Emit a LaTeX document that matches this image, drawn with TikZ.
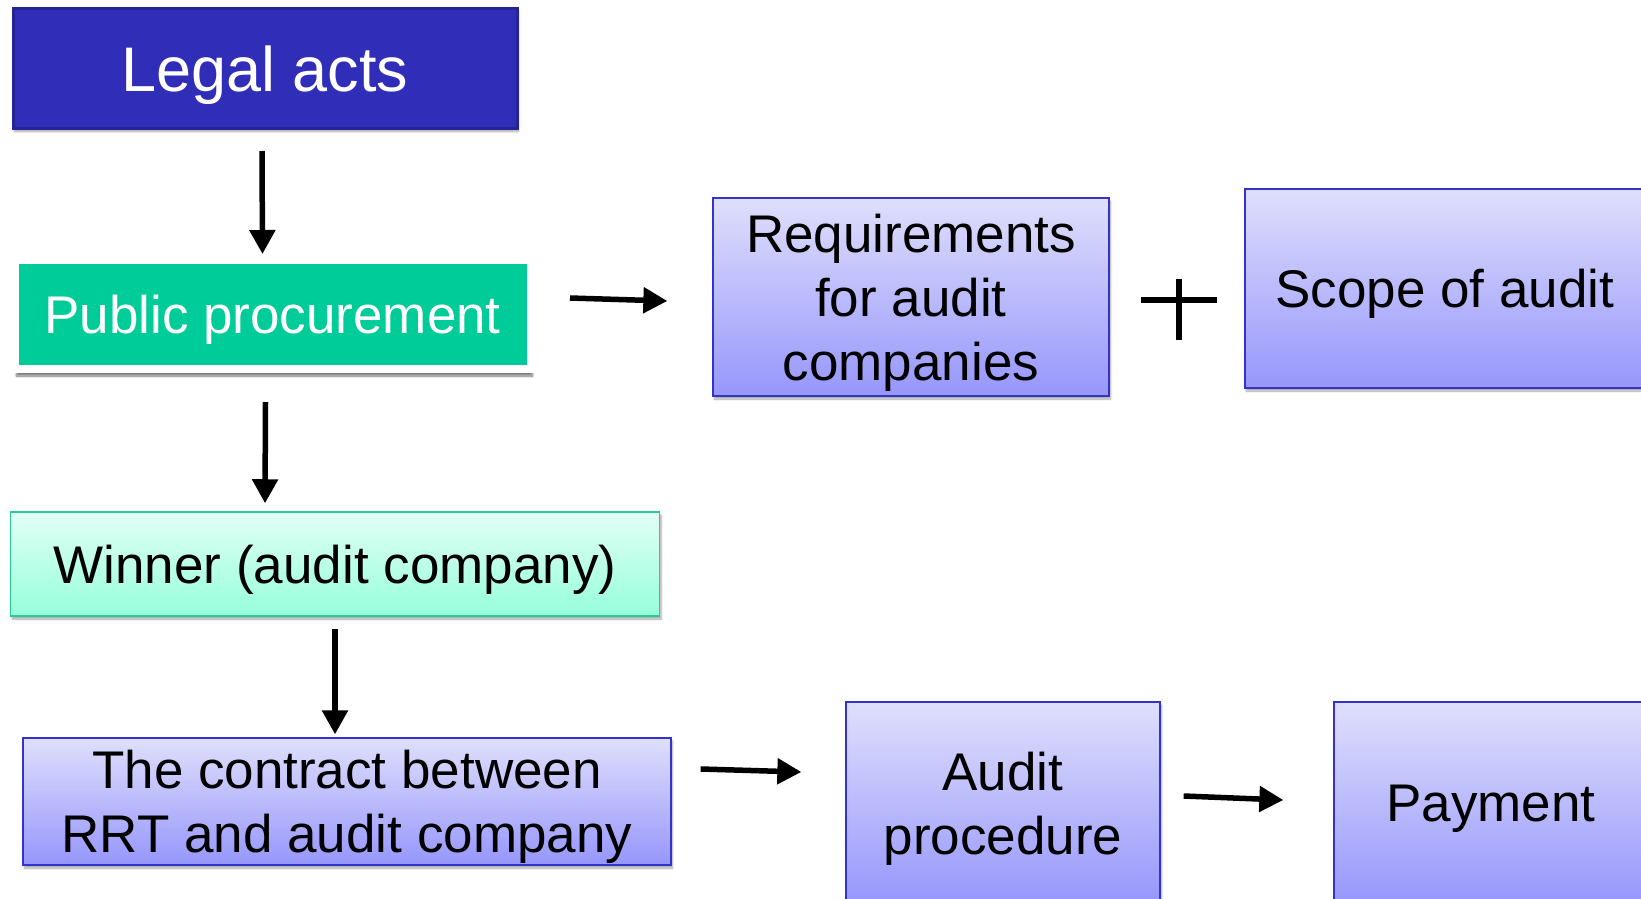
\documentclass[tikz,border=0pt]{standalone}
\usepackage{fontspec}
\setmainfont{Liberation Sans}
\usetikzlibrary{arrows.meta,shadows.blur}
\definecolor{lavtop}{RGB}{223,223,252}
\definecolor{lavbot}{RGB}{150,150,252}
\definecolor{lavline}{RGB}{51,51,204}
\definecolor{minttop}{RGB}{226,255,246}
\definecolor{mintbot}{RGB}{150,255,220}
\definecolor{mintline}{RGB}{40,204,150}
\definecolor{navyfill}{RGB}{48,46,184}
\definecolor{navyline}{RGB}{36,36,150}
\definecolor{ppgreen}{RGB}{0,204,153}
\begin{document}
\begin{tikzpicture}[x=1pt,y=-1pt,
  box/.style={rectangle, inner sep=0pt, align=center, text depth=-3pt,
    font=\fontsize{53}{64}\selectfont,
    blur shadow={shadow xshift=1.5pt, shadow yshift=-3pt, shadow blur steps=6, shadow opacity=35}},
  lav/.style={box, draw=lavline, line width=1.3pt, top color=lavtop, bottom color=lavbot},
  mint/.style={box, draw=mintline, line width=1.5pt, top color=minttop, bottom color=mintbot},
  arr/.style={line width=5.5pt, -{Triangle[length=24pt,width=25pt]}},
  plusline/.style={line width=6pt}
]
\useasboundingbox (0,0) rectangle (1641,899);
\clip (0,0) rectangle (1641,899);

\node[box, fill=navyfill, draw=navyline, line width=3pt, text=white,
  minimum width=504pt, minimum height=120pt, text depth=-1pt,
  font=\fontsize{63}{76}\selectfont]
  (la) at (265,68.5) {Legal acts};

\node[box, fill=ppgreen, draw=white, line width=8pt, text=white,
  minimum width=516pt, minimum height=109pt,
  blur shadow={shadow xshift=2pt, shadow yshift=-7pt, shadow blur steps=8, shadow opacity=30}]
  (pp) at (272.5,314.5) {Public procurement};

\node[lav, minimum width=396pt, minimum height=198pt] (req) at (911,297)
  {Requirements\\for audit\\companies};

\node[lav, minimum width=400pt, minimum height=199pt] (scope) at (1445,288.5)
  {Scope of audit};

\node[mint, minimum width=649pt, minimum height=104pt] (win) at (335,564)
  {Winner (audit company)};

\node[lav, minimum width=648pt, minimum height=127pt] (con) at (347,801.5)
  {The contract between\\RRT and audit company};

\node[lav, minimum width=314pt, minimum height=202pt] (aud) at (1003,803)
  {Audit\\procedure};

\node[lav, minimum width=314pt, minimum height=202pt] (pay) at (1491,803)
  {Payment};

\coordinate (plus) at (1179,300);
\draw[plusline] ([xshift=-38pt]plus) -- ([xshift=38pt]plus);
\draw[plusline] ([yshift=21pt]plus) -- ([yshift=-40pt]plus);

\draw[arr] ([shift={(-3,21)}]la.south) -- ([shift={(-10,-2)}]pp.north);
\draw[arr] ([shift={(-7,29)}]pp.south) -- ([shift={(-70,-8)}]win.north);
\draw[arr] ([shift={(0,12)}]win.south) -- ([shift={(-12,-3)}]con.north);
\draw[arr] ([shift={(35.5,-16.5)}]pp.east) -- ([shift={(-45,4)}]req.west);
\draw[arr] ([shift={(29,-32.5)}]con.east) -- ([shift={(-44,-31)}]aud.west);
\draw[arr] ([shift={(23,-7)}]aud.east) -- ([shift={(-50,-3)}]pay.west);
\end{tikzpicture}
\end{document}
